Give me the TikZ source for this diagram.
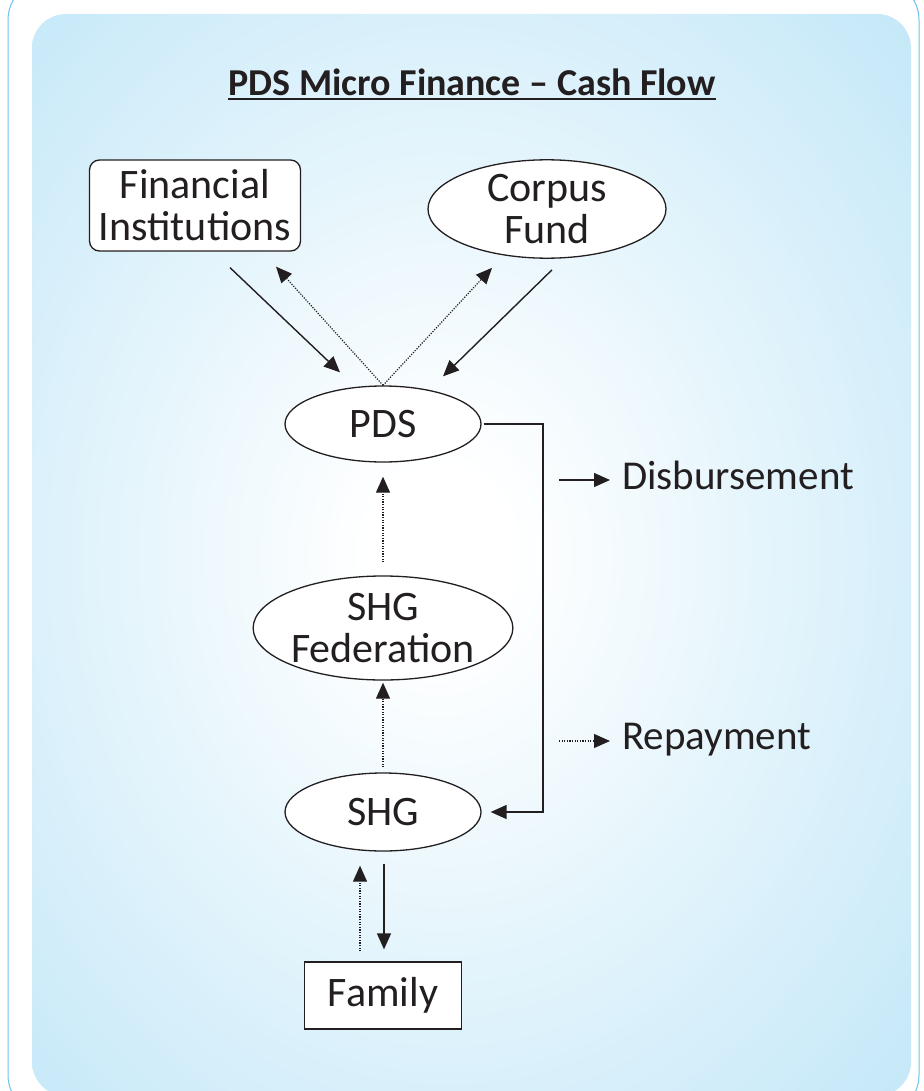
\documentclass[tikz,border=0pt]{standalone}
\usepackage{fontspec}
\setmainfont{Carlito}
\usetikzlibrary{arrows.meta,shapes.geometric}
\definecolor{bgblue}{RGB}{189,229,247}
\definecolor{rimblue}{RGB}{110,195,238}
\definecolor{ink}{RGB}{35,31,32}
\pgfdeclareradialshading{panelshade}{\pgfpoint{-2bp}{0bp}}{color(0bp)=(white); color(4bp)=(white); color(40bp)=(bgblue); color(80bp)=(bgblue)}
\tikzset{
  box/.style={draw=ink, line width=1.3pt, fill=white, inner sep=0pt, text=ink, align=center,
    font=\fontsize{42}{42}\selectfont},
  oval/.style={box, ellipse},
  solidarr/.style={draw=ink, line width=1.4pt, -{Triangle[length=16pt,width=14pt]}},
  dotarr/.style={draw=ink, line width=1.2pt, dash pattern=on 1.2pt off 1.4pt, -{Triangle[length=16pt,width=14pt]}},
  lbl/.style={text=ink, inner sep=0pt, font=\fontsize{41}{44}\selectfont}
}
\begin{document}
\begin{tikzpicture}[x=1pt,y=-1pt]
\useasboundingbox (0,0) rectangle (923,1091);
\fill[white] (0,0) rectangle (923,1091);
% outer rim
\draw[rimblue, line width=1pt, rounded corners=40pt] (8,-20) rectangle (919,1115);
% panel
\shade[shading=panelshade, rounded corners=34pt] (32,14) rectangle (911,1096);
% title
\node[text=ink, inner sep=0pt, anchor=base, font=\fontsize{38}{40}\selectfont\bfseries] (title) at (472,96) {PDS Micro Finance – Cash Flow};
\draw[ink, line width=2pt] ([shift={(0,3)}]title.base west) -- ([shift={(0,3)}]title.base east);
% nodes
\node[box, rounded corners=10pt, minimum width=211pt, minimum height=91pt] (fi) at (195,205.5) {Financial\\Institutions};
\node[oval, minimum width=238pt, minimum height=94pt] (cf) at (547,209) {Corpus\\Fund};
\node[oval, minimum width=196pt, minimum height=76pt] (pds) at (383,424) {PDS};
\node[oval, minimum width=248pt, minimum height=104pt] (fed) at (383,628) {SHG\\Federation};
\node[oval, minimum width=196pt, minimum height=78pt] (shg) at (383,812) {SHG};
\node[box, minimum width=157pt, minimum height=67pt] (fam) at (383,995.5) {Family};
% connectors top
\draw[solidarr] ([shift={(35,16)}]fi.south) -- ([shift={(-43,-13)}]pds.north);
\draw[dotarr] (pds.north) -- ([shift={(81,15)}]fi.south);
\draw[dotarr] (pds.north) -- ([shift={(-55,9)}]cf.south);
\draw[solidarr] ([shift={(5,11)}]cf.south) -- ([shift={(60,-9)}]pds.north);
% vertical chain
\draw[dotarr] ([shift={(0,-13)}]fed.north) -- ([shift={(0,14)}]pds.south);
\draw[dotarr] ([shift={(0,-5)}]shg.north) -- ([shift={(0,2)}]fed.south);
\draw[solidarr] ([shift={(1,12)}]shg.south) -- ([shift={(1,-12)}]fam.north);
\draw[dotarr] ([shift={(-23,-10)}]fam.north) -- ([shift={(-23,14)}]shg.south);
% disbursement loop
\coordinate (vx) at (543,0);
\draw[solidarr] ([shift={(2,0)}]pds.east) -- (pds.east -| vx) -- (shg.east -| vx) -- ([shift={(9,0)}]shg.east);
% legend
\node[lbl, anchor=base west] (disb) at (622,489) {Disbursement};
\node[lbl, anchor=base west] (rep) at (622,749) {Repayment};
\coordinate (d0) at (559,480);
\coordinate (r0) at (559,741);
\draw[solidarr, shorten >=12pt] (d0) -- (d0 -| disb.west);
\draw[dotarr, shorten >=12pt] (r0) -- (r0 -| rep.west);
\end{tikzpicture}
\end{document}
